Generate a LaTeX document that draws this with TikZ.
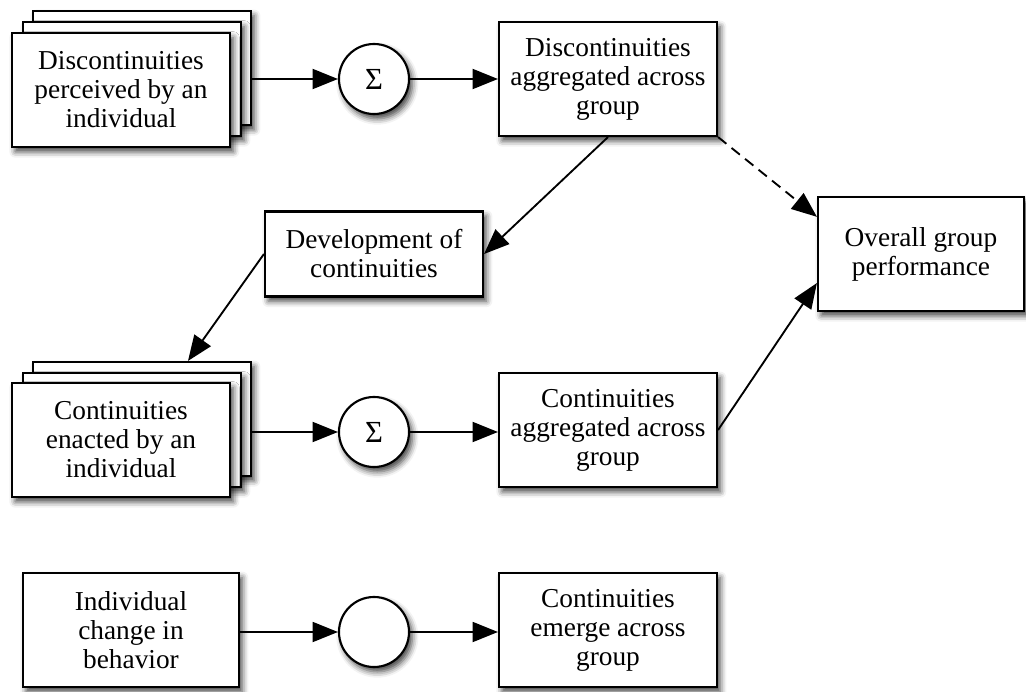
\documentclass[tikz,border=0pt]{standalone}
\usepackage{fontspec}
\setmainfont{Liberation Serif}
\usetikzlibrary{arrows.meta, positioning, calc, shadows.blur}

\begin{document}
\begin{tikzpicture}[x=0.75pt, y=-0.75pt,
        every node/.style={align=center, font=\fontsize{20.5}{21.75}\selectfont},
        box/.style={draw, line width=1.6pt, fill=white, minimum width=163.5pt, minimum height=85.5pt, inner sep=0pt,
            blur shadow={shadow xshift=2.5pt, shadow yshift=-3.5pt, shadow blur radius=4.5pt, shadow opacity=75}},
        sumnode/.style={draw, circle, line width=1.6pt, fill=white, minimum size=52.5pt, inner sep=0pt,
            blur shadow={shadow xshift=2.5pt, shadow yshift=-3.5pt, shadow blur radius=4.5pt, shadow opacity=75}},
        link/.style={-{Triangle[length=19pt, width=15pt]}, line width=1.4pt}]
        \useasboundingbox (0,0) rectangle (1026,692);

        % Perceived discontinuities (stacked)
        \node[box] (discback) at (142,68) {};
        \node[box] (discmid) at (132,79) {};
        \node[box] (disc) at (121,90) {Discontinuities\\perceived by an\\individual};
        \node[sumnode, font=\fontsize{23}{24}\selectfont] (sum1) at (374,79) {Σ};
        \node[box] (discagg) at (608,79) {Discontinuities\\aggregated across\\group};

        % Development and outcome
        \node[box, minimum height=63.75pt] (devel) at (374,254) {Development of\\continuities};
        \node[box, minimum width=154.5pt] (overall) at (921,254) {Overall group\\performance};

        % Enacted continuities (stacked)
        \node[box] (contback) at (142,419) {};
        \node[box] (contmid) at (132,430) {};
        \node[box] (cont) at (121,440) {Continuities\\enacted by an\\individual};
        \node[sumnode, font=\fontsize{23}{24}\selectfont] (sum2) at (374,432) {Σ};
        \node[box] (contagg) at (608,430) {Continuities\\aggregated across\\group};

        % Emergence
        \node[box, minimum width=162pt] (indiv) at (131,630) {Individual\\change in\\behavior};
        \node[sumnode] (sum3) at (374,632) {};
        \node[box] (emerge) at (608,630) {Continuities\\emerge across\\group};

        % Connections
        \draw[link] (discback.east |- sum1) -- (sum1);
        \draw[link] (sum1) -- (sum1 -| discagg.west);
        \draw[link] (discagg.south) -- (devel.east);
        \draw[link] (devel.west) -- ($(contback.north)+(46,0)$);
        \draw[link, dash pattern=on 8pt off 5pt] (discagg.south east) -- ($(overall.north west)!0.18!(overall.south west)$);
        \draw[link] (contagg.east) -- ($(overall.south west)!0.25!(overall.north west)$);

        \draw[link] (contback.east |- sum2) -- (sum2);
        \draw[link] (sum2) -- (sum2 -| contagg.west);

        \draw[link] (indiv.east |- sum3) -- (sum3);
        \draw[link] (sum3) -- (sum3 -| emerge.west);

    \end{tikzpicture}
\end{document}
